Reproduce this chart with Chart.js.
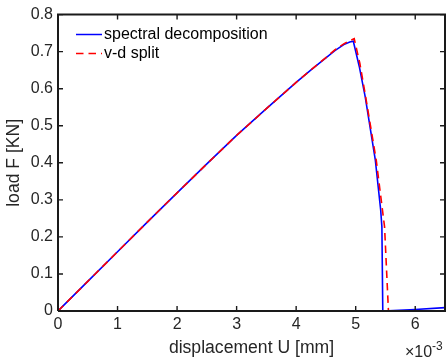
<!DOCTYPE html>
<html>
<head>
<meta charset="utf-8">
<script src="https://cdn.jsdelivr.net/npm/chart.js@4"></script>
<style>
  body { margin: 0; background: #fff; }
  #wrap { width: 448px; height: 360px; }
</style>
</head>
<body>
<div id="wrap"><canvas id="grafico" width="448" height="360"></canvas></div>
<script>
// displacement in mm, load in KN
const dispSpectral = [0, 0.0005, 0.001, 0.0015, 0.002, 0.0025, 0.003, 0.0035, 0.004, 0.00425, 0.0045, 0.00465, 0.0048, 0.0049, 0.00496, 0.00506, 0.00516, 0.00533, 0.00542, 0.00544, 0.005455, 0.006, 0.0065];
const loadSpectral = [0, 0.080, 0.160, 0.240, 0.319, 0.397, 0.474, 0.546, 0.617, 0.651, 0.683, 0.703, 0.719, 0.726, 0.728, 0.660, 0.578, 0.407, 0.272, 0.227, 0, 0.004, 0.009];
const dispVD = [0, 0.0005, 0.001, 0.0015, 0.002, 0.0025, 0.003, 0.0035, 0.004, 0.00425, 0.0045, 0.00465, 0.0048, 0.0049, 0.004975, 0.00507, 0.00516, 0.005345, 0.005485, 0.00555];
const loadVD = [0, 0.080, 0.160, 0.240, 0.319, 0.397, 0.474, 0.546, 0.617, 0.651, 0.684, 0.705, 0.721, 0.730, 0.735, 0.668, 0.585, 0.407, 0.227, 0];
const seriesNames = ["spectral decomposition", "v-d split"];
const xTicks = [0, 0.001, 0.002, 0.003, 0.004, 0.005, 0.006];
const yTicks = [0, 0.1, 0.2, 0.3, 0.4, 0.5, 0.6, 0.7, 0.8];
const xMax = 0.0065, yMax = 0.8;

const fonte = "'Liberation Sans', Arial, sans-serif";
const corTexto = "#262626";
const corEixo = "#1a1a1a";

function pontos(xs, ys) {
  return xs.map((x, i) => ({ x: x, y: ys[i] }));
}

// ticks para dentro, legenda e expoente (estilo matlab)
const extrasPlugin = {
  id: "extras",
  afterDatasetsDraw(chart) {
    const ctx = chart.ctx;
    const sx = chart.scales.x, sy = chart.scales.y;
    const l = sx.getPixelForValue(0), r = sx.getPixelForValue(xMax);
    const t = sy.getPixelForValue(yMax), b = sy.getPixelForValue(0);
    ctx.save();
    ctx.setLineDash([]);
    ctx.strokeStyle = corEixo;
    ctx.lineWidth = 1.4;
    ctx.beginPath();
    xTicks.forEach(v => {
      const px = sx.getPixelForValue(v);
      ctx.moveTo(px, b); ctx.lineTo(px, b - 5);
      ctx.moveTo(px, t); ctx.lineTo(px, t + 5);
    });
    yTicks.forEach(v => {
      const py = sy.getPixelForValue(v);
      ctx.moveTo(l, py); ctx.lineTo(l + 5, py);
      ctx.moveTo(r, py); ctx.lineTo(r - 5, py);
    });
    ctx.stroke();
    ctx.restore();
  },
  afterDraw(chart) {
    const ctx = chart.ctx;
    ctx.save();
    const ds = chart.data.datasets.slice(0, seriesNames.length);
    ctx.font = "16px " + fonte;
    ctx.textBaseline = "middle";
    ctx.textAlign = "left";
    ds.forEach((d, i) => {
      const y = 34.5 + i * 19;
      ctx.strokeStyle = d.borderColor;
      ctx.lineWidth = 1.5;
      ctx.setLineDash(d.borderDash || []);
      ctx.beginPath();
      ctx.moveTo(76, y); ctx.lineTo(102, y);
      ctx.stroke();
      ctx.setLineDash([]);
      ctx.fillStyle = "#000";
      ctx.fillText(d.label, 104, y);
    });

    ctx.fillStyle = corTexto;
    ctx.font = "16px " + fonte;
    ctx.textBaseline = "alphabetic";
    ctx.fillText("\u00d710", 405, 357);
    ctx.font = "12px " + fonte;
    ctx.fillText("-3", 432, 350);
    ctx.restore();
  }
};

new Chart(document.getElementById("grafico").getContext("2d"), {
  type: "line",
  data: {
    datasets: [
      {
        label: seriesNames[0],
        data: pontos(dispSpectral, loadSpectral),
        borderColor: "#0000ff",
        borderWidth: 1.6,
        pointRadius: 0,
        tension: 0,
        order: 1
      },
      {
        label: seriesNames[1],
        data: pontos(dispVD, loadVD),
        borderColor: "#ff0000",
        borderWidth: 1.6,
        borderDash: [7.5, 5],
        pointRadius: 0,
        tension: 0,
        order: 0
      },
      {
        // caixa dos eixos
        label: "caixa",
        data: pontos([0, xMax, xMax, 0, 0], [0, 0, yMax, yMax, 0]),
        borderColor: corEixo,
        borderWidth: 2,
        borderJoinStyle: "miter",
        pointRadius: 0,
        tension: 0,
        clip: false,
        order: -1
      }
    ]
  },
  options: {
    responsive: false,
    animation: false,
    layout: { padding: { top: 14, right: 3, left: 0, bottom: 0 } },
    plugins: {
      legend: { display: false },
      tooltip: { enabled: false }
    },
    scales: {
      x: {
        type: "linear",
        min: 0,
        max: xMax,
        afterBuildTicks: s => { s.ticks = xTicks.map(v => ({ value: v })); },
        afterFit: s => { s.height = 49; },
        grid: { display: false, drawTicks: false, tickLength: 0 },
        border: { display: false },
        ticks: {
          font: { family: fonte, size: 16 },
          color: corTexto,
          padding: 4,
          maxRotation: 0,
          callback: v => String(Math.round(v * 1000))
        },
        title: {
          display: true,
          text: "displacement U [mm]",
          font: { family: fonte, size: 17.6 },
          color: corTexto,
          padding: { top: 0, bottom: 1 }
        }
      },
      y: {
        min: 0,
        max: yMax,
        afterBuildTicks: s => { s.ticks = yTicks.map(v => ({ value: v })); },
        afterFit: s => { s.width = 58; },
        grid: { display: false, drawTicks: false, tickLength: 0 },
        border: { display: false },
        ticks: {
          font: { family: fonte, size: 16 },
          color: corTexto,
          padding: 5,
          callback: v => (Math.round(v * 10) / 10).toString()
        },
        title: {
          display: true,
          text: "load F [KN]",
          font: { family: fonte, size: 17.6 },
          color: corTexto,
          padding: { top: 4, bottom: 0 }
        }
      }
    }
  },
  plugins: [extrasPlugin]
});
</script>
</body>
</html>
